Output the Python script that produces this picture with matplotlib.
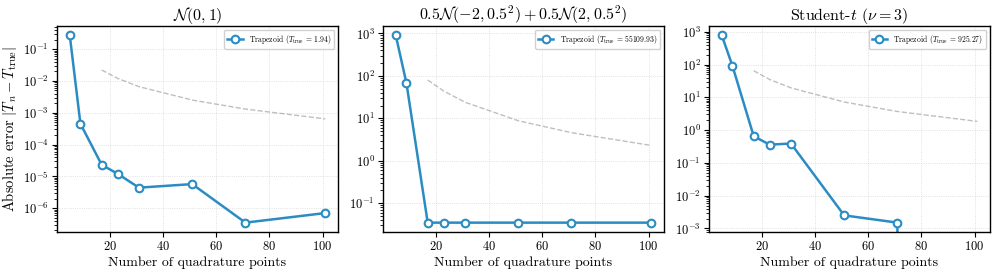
import numpy as np
import matplotlib
matplotlib.use("Agg")
import matplotlib.pyplot as plt

plt.rcParams.update({
    "font.family": "serif",
    "font.serif": ["cmr10", "DejaVu Serif"],
    "mathtext.fontset": "cm",
    "axes.formatter.use_mathtext": True,
    "axes.unicode_minus": False,
})

n_points = [5, 9, 17, 23, 31, 51, 71, 101]
ref_n = [17, 23, 31, 51, 71, 101]

titles = [r"$\mathcal{N}(0,1)$",
          r"$0.5\mathcal{N}(-2,0.5^2)+0.5\mathcal{N}(2,0.5^2)$",
          r"Student-$t$ ($\nu=3$)"]
t_true = ["1.94", "55109.93", "925.27"]

err_normal = [0.27, 4.5e-4, 2.3e-5, 1.2e-5, 4.4e-6, 5.7e-6, 3.5e-7, 7.0e-7]
err_mixture = [900, 68, 0.035, 0.035, 0.035, 0.035, 0.035, 0.035]
err_student = [780, 92, 0.65, 0.36, 0.39, 2.5e-3, 1.5e-3, 0.0]

ref_normal = [2.2e-2, 1.2e-2, 6.6e-3, 2.5e-3, 1.3e-3, 6.4e-4]
ref_mixture = [80, 44, 24, 8.8, 4.6, 2.3]
ref_student = [65, 35, 19.5, 7.2, 3.7, 1.85]

errors = [err_normal, err_mixture, err_student]
refs = [ref_normal, ref_mixture, ref_student]

W, H = 997, 274
fig = plt.figure(figsize=(W / 100, H / 100), dpi=100)
lefts = [57, 383, 709]
axes = [fig.add_axes([l / W, (H - 232) / H, 281 / W, 206 / H]) for l in lefts]

color = "#2b8cc4"
for ax, title, tt, err, ref in zip(axes, titles, t_true, errors, refs):
    ax.plot(n_points, err, "-o", color=color, lw=1.8, ms=5.5,
            mfc="white", mec=color, mew=1.5,
            label=r"Trapezoid ($T_{\rm true}$ = %s)" % tt)
    ax.plot(ref_n, ref, "--", color="gray", alpha=0.5, lw=1.0)
    ax.set_yscale("log")
    ylo, yhi = ax.get_ylim()
    exps = np.arange(np.ceil(np.log10(ylo)), np.floor(np.log10(yhi)) + 1)
    ax.set_yticks(10.0 ** exps)
    ax.set_ylim(ylo, yhi)
    ax.set_title(title, fontsize=11.5, pad=3)
    ax.set_xlabel("Number of quadrature points", fontsize=10, labelpad=2)
    ax.grid(True, which="major", ls=":", lw=0.6, alpha=0.5)
    ax.tick_params(labelsize=9, pad=2.5)
    ax.set_xticks([20, 40, 60, 80, 100])
    ax.legend(loc="upper right", fontsize=5.5, framealpha=0.9)
    for s in ax.spines.values():
        s.set_linewidth(1.0)

axes[0].set_ylabel(r"Absolute error $|\hat{T}_n - T_{\rm true}|$", fontsize=10.5)
axes[0].yaxis.set_label_coords(-0.13, 0.5)

fig.savefig("out.png", dpi=100)
